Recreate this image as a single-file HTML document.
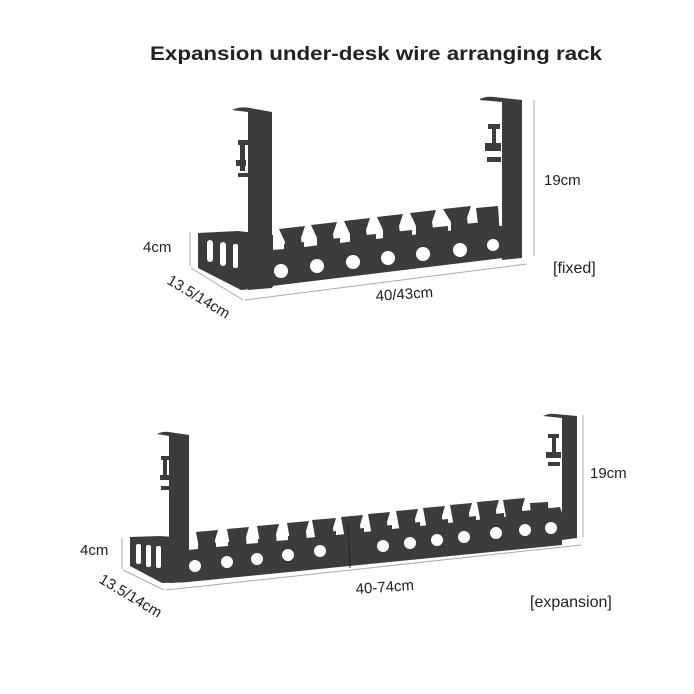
<!DOCTYPE html>
<html><head><meta charset="utf-8"><style>
html,body{margin:0;padding:0;background:#fff;}
svg{display:block;}
text{font-family:"Liberation Sans",sans-serif;fill:#222;}
</style></head><body>
<svg width="694" height="694" viewBox="0 0 694 694" xmlns="http://www.w3.org/2000/svg">
<rect width="694" height="694" fill="#fff"/>
<text x="376" y="60" text-anchor="middle" font-size="19.5" font-weight="bold" fill="#111" textLength="452" lengthAdjust="spacingAndGlyphs">Expansion under-desk wire arranging rack</text>

<!-- ===== TOP RACK ===== -->
<g fill="#3c3c3e">
  <path d="M279,229 l26,-3 l-4,12 l2,14 l-18,2 l0,-12z"/>
  <path d="M311,225 l26,-3 l-4,12 l2,14 l-18,2 l0,-12z"/>
  <path d="M344,221 l26,-3 l-4,12 l2,14 l-18,2 l0,-12z"/>
  <path d="M377,217 l26,-3 l-4,12 l2,14 l-18,2 l0,-12z"/>
  <path d="M410,213 l26,-3 l-4,12 l2,14 l-18,2 l0,-12z"/>
  <path d="M443,209 l28,-3 l-4,12 l2,14 l-18,2 l0,-12z"/>
  <path d="M476,208 l22,-2 l2,30 l-20,3 z"/>
  <path d="M198,233 l40,-2 l35,4 l0,52 l-32,3 l-43,-22z"/>
  <path d="M272,250 l12,-1 l0,-5 l20,-2 l0,5 l16,-2 l0,-5 l20,-2 l0,5 l16,-2 l0,-5 l20,-2 l0,5 l16,-2 l0,-5 l20,-2 l0,5 l16,-2 l0,-5 l20,-2 l0,5 l16,-2 l0,-5 l20,-2 l0,4 L503,226 L503,258 L272,286z"/>
  <path d="M232,110 q8,-4 18,-2 l22,4 l0,176 l-24,2 l0,-178 l-16,-2z"/>
  <rect x="238" y="140" width="10" height="5"/><rect x="240" y="145" width="5" height="26"/><rect x="236" y="160" width="10" height="6"/><rect x="238" y="173" width="10" height="4"/>
  <path d="M480,99 q6,-3 14,-2 l28,3 l0,158 l-20,2 l0,-158 l-22,-2z"/>
  <rect x="488" y="124" width="12" height="5"/><rect x="492" y="129" width="4" height="22"/><rect x="485" y="143" width="16" height="8"/><rect x="487" y="157" width="14" height="5"/>
</g>
<g fill="#fff">
  <circle cx="281" cy="271" r="7"/><circle cx="317" cy="266" r="7"/><circle cx="353" cy="262" r="7"/><circle cx="388" cy="258" r="7"/><circle cx="423" cy="254" r="7"/><circle cx="460" cy="250" r="7"/><circle cx="493" cy="245" r="6"/>
  <rect x="207" y="240" width="6" height="22" rx="3"/><rect x="220" y="242" width="6" height="24" rx="3"/><rect x="233" y="244" width="5" height="24" rx="2"/>
</g>
<g stroke="#aaa" stroke-width="1" fill="none">
  <line x1="190" y1="232" x2="190" y2="266"/>
  <line x1="191" y1="268" x2="243" y2="300"/>
  <line x1="245" y1="300" x2="527" y2="264"/>
  <line x1="534" y1="100" x2="534" y2="256"/>
</g>
<text x="143" y="252" font-size="15">4cm</text>
<text x="0" y="0" font-size="15" transform="translate(166,283) rotate(31)">13.5/14cm</text>
<text x="0" y="0" font-size="15" transform="translate(376,301) rotate(-4)">40/43cm</text>
<text x="544" y="185" font-size="15">19cm</text>
<text x="553" y="273" font-size="16">[fixed]</text>

<!-- ===== BOTTOM RACK ===== -->
<g fill="#3c3c3e">
  <path d="M196,532 l22,-2 l-3,10 l1,12 l-16,2z"/>
  <path d="M227,529 l22,-2 l-3,10 l1,12 l-16,2z"/>
  <path d="M257,526 l22,-2 l-3,10 l1,12 l-16,2z"/>
  <path d="M287,523 l22,-2 l-3,10 l1,12 l-16,2z"/>
  <path d="M312,520 l24,-2 l-3,10 l1,12 l-18,2z"/>
  <path d="M341,517 l22,-2 l-3,10 l1,12 l-16,2z"/>
  <path d="M368,514 l22,-2 l-3,10 l1,12 l-16,2z"/>
  <path d="M396,511 l22,-2 l-3,10 l1,12 l-16,2z"/>
  <path d="M423,508 l22,-2 l-3,10 l1,12 l-16,2z"/>
  <path d="M450,505 l22,-2 l-3,10 l1,12 l-16,2z"/>
  <path d="M477,502 l22,-2 l-3,10 l1,12 l-16,2z"/>
  <path d="M503,500 l22,-2 l-3,10 l1,12 l-16,2z"/>
  <path d="M530,503 l18,-1 l1,24 l-17,2z"/>
  <path d="M130,537 l30,-1 l28,2 l0,44 l-26,1 l-32,-17z"/>
  <path d="M188,550 l10,-1 l0,-4 l18,-2 l0,4 l12,-1 l0,-4 l18,-2 l0,4 l12,-1 l0,-4 l18,-2 l0,4 l12,-1 l0,-4 l18,-2 l0,4 l10,-1 l0,-4 l20,-2 l0,4 l10,-1 l0,-4 l18,-2 l0,4 l10,-1 l0,-4 l18,-2 l0,4 l10,-1 l0,-4 l18,-2 l0,4 l10,-1 l0,-4 l18,-2 l0,4 l10,-1 l0,-4 l18,-2 l0,4 l10,-1 l0,-4 l18,-2 l0,4 l10,-1 l0,-4 l18,-2 l0,4 l10,-1 l0,-4 l18,-2 L562,513 L562,545 L188,582z"/>
  <path d="M157,434 q6,-3 12,-2 l20,3 l0,147 l-20,1 l0,-147 l-12,-2z"/>
  <rect x="161" y="456" width="8" height="4"/><rect x="163" y="460" width="4" height="20"/><rect x="160" y="475" width="9" height="5"/><rect x="161" y="486" width="8" height="4"/>
  <path d="M543,416 q6,-3 12,-2 l22,2 l0,122 l-15,2 l0,-122 l-19,-2z"/>
  <rect x="548" y="434" width="11" height="4"/><rect x="552" y="438" width="4" height="18"/><rect x="546" y="452" width="15" height="6"/><rect x="548" y="462" width="12" height="4"/>
</g>
<g fill="#fff">
  <circle cx="195" cy="566" r="6"/><circle cx="227" cy="562" r="6"/><circle cx="257" cy="559" r="6"/><circle cx="288" cy="555" r="6"/><circle cx="320" cy="551" r="6"/>
  <circle cx="383" cy="546" r="6"/><circle cx="410" cy="543" r="6"/><circle cx="437" cy="540" r="6"/><circle cx="464" cy="537" r="6"/><circle cx="496" cy="533" r="6"/><circle cx="525" cy="530" r="6"/><circle cx="551" cy="528" r="6"/>
  <rect x="136" y="544" width="5" height="20" rx="2"/><rect x="146" y="545" width="5" height="22" rx="2"/><rect x="156" y="546" width="5" height="22" rx="2"/>
</g>
<line x1="348" y1="524" x2="350" y2="568" stroke="#222" stroke-width="1"/>
<g stroke="#aaa" stroke-width="1" fill="none">
  <line x1="122" y1="538" x2="122" y2="569"/>
  <line x1="123" y1="570" x2="164" y2="590"/>
  <line x1="166" y1="590" x2="581" y2="545"/>
  <line x1="583" y1="415" x2="583" y2="537"/>
</g>
<text x="80" y="555" font-size="15">4cm</text>
<text x="0" y="0" font-size="15" transform="translate(98,582) rotate(31)">13.5/14cm</text>
<text x="0" y="0" font-size="15" transform="translate(356,594) rotate(-4)">40-74cm</text>
<text x="590" y="478" font-size="15">19cm</text>
<text x="530" y="607" font-size="16">[expansion]</text>
</svg>
</body></html>
